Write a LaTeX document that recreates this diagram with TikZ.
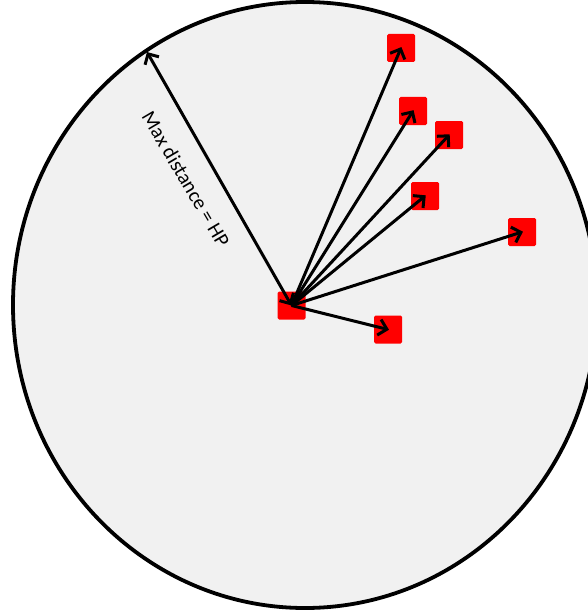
\documentclass[tikz,border=0pt]{standalone}
\usepackage{fontspec}
\setmainfont{Carlito}
\usetikzlibrary{arrows.meta}
\definecolor{bgfill}{HTML}{F1F1F1}
\definecolor{boxred}{HTML}{FF0000}
\tikzset{
  redbox/.style={fill=boxred, draw=none, rounded corners=1.5pt, minimum size=28pt, inner sep=0pt},
  barb/.style={Straight Barb[length=8pt,width=16pt,line width=3pt]},
  vec/.style={line width=3pt, -{Straight Barb[length=8pt,width=16pt,line width=3pt]}},
  dvec/.style={line width=3pt, {Straight Barb[length=8pt,width=16pt,line width=3pt]}-{Straight Barb[length=8pt,width=16pt,line width=3pt]}},
}
\begin{document}
\begin{tikzpicture}[x=1pt,y=-1pt]
\useasboundingbox (0,0) rectangle (588,615);
\clip (0,0) rectangle (588,615);
\fill[white] (0,0) rectangle (588,615);
\draw[line width=3.8pt, fill=bgfill] (305,305) ellipse [x radius=292, y radius=303];
\node[redbox] (c) at (291.5,305.5) {};
\node[redbox] (s1) at (401,48) {};
\node[redbox] (s2) at (413,111) {};
\node[redbox] (s3) at (449,135) {};
\node[redbox] (s4) at (425,196) {};
\node[redbox] (s5) at (522,232) {};
\node[redbox] (s6) at (388,329.5) {};
\coordinate (edge) at (147,52);
\draw[dvec] (edge) -- (c.center);
\foreach \t in {s1,s2,s3,s4,s5,s6}
  \draw[vec, shorten >=-1pt] (c.center) -- (\t.center);
\node[rotate=-59.5, font=\fontsize{20.5}{22}\selectfont, inner sep=0pt] (lbl) at (186,179) {Max distance = HP};
\end{tikzpicture}
\end{document}
